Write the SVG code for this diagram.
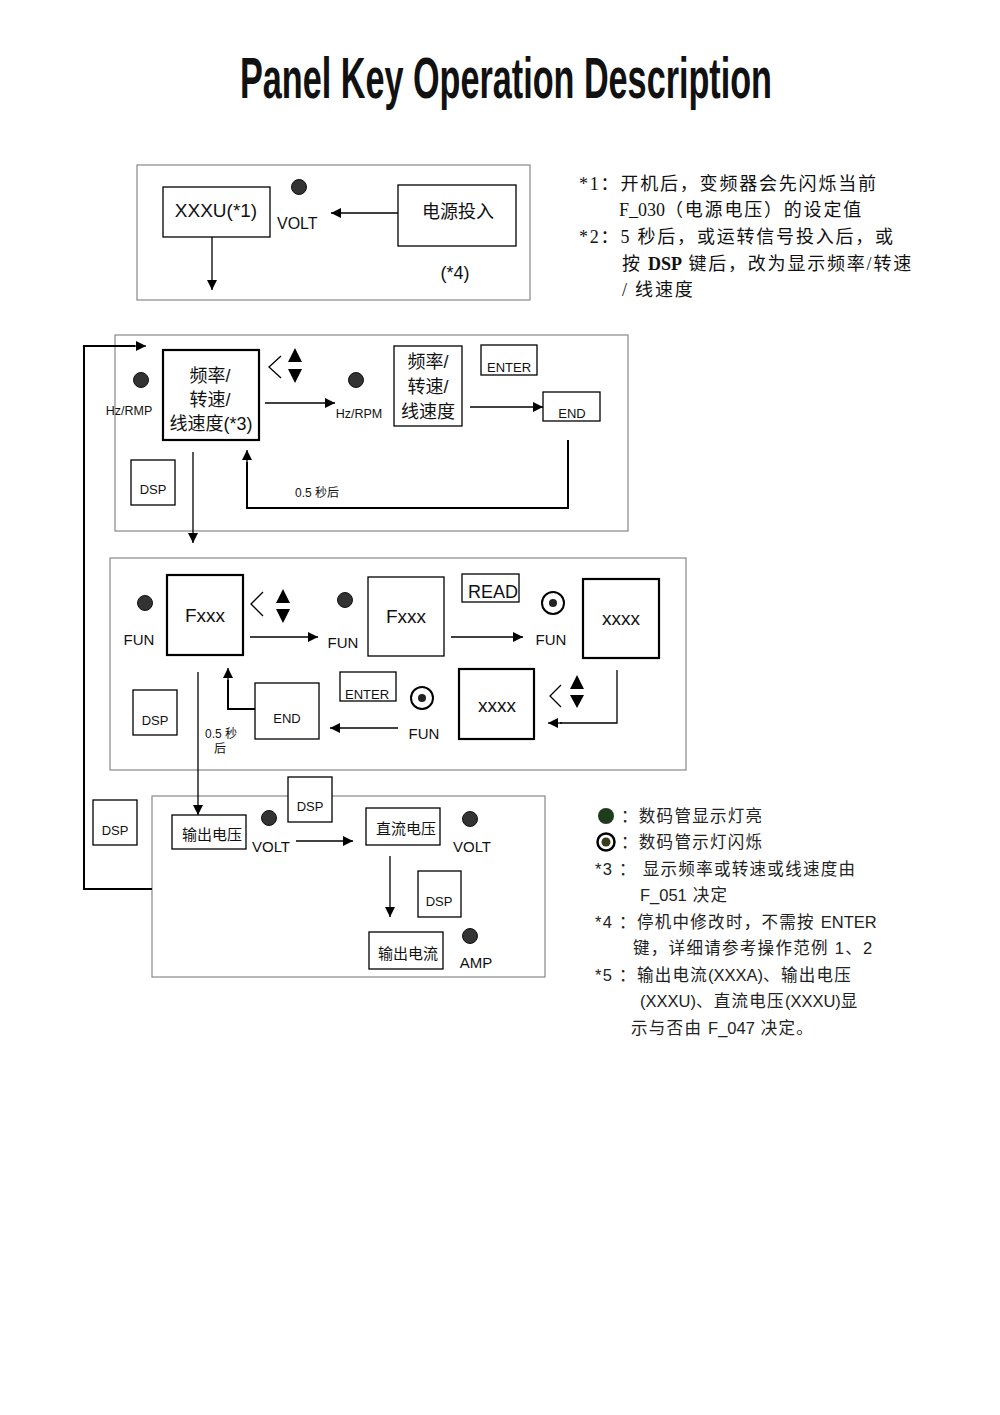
<svg xmlns="http://www.w3.org/2000/svg" width="1000" height="1415" viewBox="0 0 1000 1415">
<defs>
<marker id="ah" viewBox="0 0 10 10" refX="10" refY="5" markerWidth="10" markerHeight="10" markerUnits="userSpaceOnUse" orient="auto"><path d="M0,0 L10,5 L0,10 z" fill="#000"/></marker>
</defs>
<style>
.panel{fill:#fff;stroke:#888;stroke-width:1.2}
.box{fill:#fff;stroke:#000;stroke-width:1.3}
.tbox{fill:#fff;stroke:#000;stroke-width:2.2}
.t{font-family:"Liberation Sans","Noto Sans CJK SC",sans-serif;fill:#111}
.c{text-anchor:middle}
.dot{fill:#333;stroke:#111;stroke-width:1}
.ln{fill:none;stroke:#000;stroke-width:1.3}
.lnb{fill:none;stroke:#000;stroke-width:2}
.n{font-family:"Liberation Serif","Noto Sans CJK SC",serif;font-size:18px;letter-spacing:1.8px;fill:#111}
.m{font-family:"Liberation Sans","Noto Sans CJK SC",sans-serif;font-size:16.5px;letter-spacing:1.3px;fill:#222}
.l0{letter-spacing:0}
</style>
<rect width="1000" height="1415" fill="#fff"/>
<text transform="translate(506,98) scale(1,1.45)" x="0" y="0" class="t c" font-size="40" font-weight="bold" textLength="532" lengthAdjust="spacingAndGlyphs" fill="#000">Panel Key Operation Description</text>

<!-- panels -->
<rect class="panel" x="137" y="165" width="393" height="135"/>
<rect class="panel" x="115" y="335" width="513" height="196"/>
<rect class="panel" x="110" y="558" width="576" height="212"/>
<rect class="panel" x="152" y="796" width="393" height="181"/>

<!-- Panel 1 -->
<g id="n-xxxu"><rect class="box" x="163" y="187" width="107" height="50"/><text x="216" y="217" class="t c" font-size="19">XXXU(*1)</text></g>
<g id="n-volt1"><circle class="dot" cx="299" cy="187" r="7.5"/><text x="277" y="229" class="t" font-size="16">VOLT</text></g>
<g id="n-power"><rect class="box" x="398" y="185" width="118" height="61"/><text x="458" y="218" class="t c" font-size="18">电源投入</text></g>
<g id="n-star4"><text x="455" y="279" class="t c" font-size="18">(*4)</text></g>

<!-- Panel 2 -->
<g id="n-hzrmp"><circle class="dot" cx="141" cy="380" r="7.5"/><text x="129" y="415" class="t c" font-size="12.5">Hz/RMP</text></g>
<g id="n-freq1"><rect class="tbox" x="163" y="350" width="96" height="90"/>
<text x="210" y="382" class="t c" font-size="18">频率/</text>
<text x="210" y="406" class="t c" font-size="18">转速/</text>
<text x="211" y="430" class="t c" font-size="18">线速度(*3)</text></g>
<g id="n-updown1"><path d="M281,356 L269,367 L281,378" class="ln" stroke-width="1.6"/><path d="M295,348 L302,362 L288,362 z M288,369 L302,369 L295,383 z" fill="#000"/></g>
<g id="n-hzrpm"><circle class="dot" cx="356" cy="380" r="7.5"/><text x="359" y="418" class="t c" font-size="12.5">Hz/RPM</text></g>
<g id="n-freq2"><rect class="box" x="394" y="346" width="68" height="80"/>
<text x="428" y="368" class="t c" font-size="18">频率/</text>
<text x="428" y="393" class="t c" font-size="18">转速/</text>
<text x="428" y="418" class="t c" font-size="18">线速度</text></g>
<g id="n-enter1"><rect class="box" x="481" y="345" width="56" height="30"/><text x="509" y="372" class="t c" font-size="13">ENTER</text></g>
<g id="n-end1"><rect class="box" x="543" y="392" width="57" height="29"/><text x="572" y="418" class="t c" font-size="13">END</text></g>
<g id="n-dsp1"><rect class="box" x="131" y="460" width="44" height="45"/><text x="153" y="494" class="t c" font-size="13">DSP</text></g>
<g id="n-half1"><text x="295" y="497" class="t" font-size="12">0.5 秒后</text></g>

<!-- Panel 3 -->
<g id="n-fun1"><circle class="dot" cx="145" cy="603" r="7.5"/><text x="139" y="645" class="t c" font-size="15">FUN</text></g>
<g id="n-fxxx1"><rect class="tbox" x="167" y="575" width="76" height="80"/><text x="205" y="622" class="t c" font-size="19">Fxxx</text></g>
<g id="n-updown2"><path d="M263,592 L251,604 L263,616" class="ln" stroke-width="1.6"/><path d="M283,589 L290,603 L276,603 z M276,609 L290,609 L283,623 z" fill="#000"/></g>
<g id="n-fun2"><circle class="dot" cx="345" cy="600" r="7.5"/><text x="343" y="648" class="t c" font-size="15">FUN</text></g>
<g id="n-fxxx2"><rect class="box" x="368" y="577" width="76" height="79"/><text x="406" y="623" class="t c" font-size="19">Fxxx</text></g>
<g id="n-read"><rect class="box" x="462" y="574" width="57" height="28"/><text x="493" y="598" class="t c" font-size="18">READ</text></g>
<g id="n-fun3"><circle cx="553" cy="603" r="11" fill="#fff" stroke="#000" stroke-width="2"/><circle cx="553" cy="603" r="4" fill="#222"/><text x="551" y="645" class="t c" font-size="15">FUN</text></g>
<g id="n-xxxx1"><rect class="tbox" x="583" y="579" width="76" height="79"/><text x="621" y="625" class="t c" font-size="19">xxxx</text></g>
<g id="n-updown3"><path d="M561,685 L550,696 L561,707" class="ln" stroke-width="1.6"/><path d="M577,675 L584,689 L570,689 z M570,695 L584,695 L577,708 z" fill="#000"/></g>
<g id="n-xxxx2"><rect class="tbox" x="459" y="669" width="75" height="70"/><text x="497" y="712" class="t c" font-size="19">xxxx</text></g>
<g id="n-fun4"><circle cx="422" cy="698" r="11" fill="#fff" stroke="#000" stroke-width="2"/><circle cx="422" cy="698" r="4" fill="#222"/><text x="424" y="739" class="t c" font-size="15">FUN</text></g>
<g id="n-enter2"><rect class="box" x="340" y="672" width="56" height="29"/><text x="367" y="699" class="t c" font-size="13">ENTER</text></g>
<g id="n-end2"><rect class="box" x="255" y="683" width="64" height="56"/><text x="287" y="723" class="t c" font-size="13">END</text></g>
<g id="n-dsp2"><rect class="box" x="133" y="690" width="44" height="45"/><text x="155" y="725" class="t c" font-size="13">DSP</text></g>
<g id="n-half2"><text x="205" y="738" class="t" font-size="12">0.5 秒</text><text x="220" y="753" class="t c" font-size="12">后</text></g>

<!-- Panel 4 -->
<g id="n-dsp3"><rect class="box" x="93" y="800" width="44" height="45"/><text x="115" y="835" class="t c" font-size="13">DSP</text></g>
<g id="n-dsp4"><rect class="box" x="288" y="777" width="44" height="45"/><text x="310" y="811" class="t c" font-size="13">DSP</text></g>
<g id="n-outv"><rect class="box" x="172" y="815" width="74" height="34"/><text x="212" y="840" class="t c" font-size="15">输出电压</text></g>
<g id="n-volt2"><circle class="dot" cx="269" cy="818" r="7.5"/><text x="271" y="852" class="t c" font-size="15">VOLT</text></g>
<g id="n-dcv"><rect class="box" x="366" y="808" width="74" height="37"/><text x="406" y="834" class="t c" font-size="15">直流电压</text></g>
<g id="n-volt3"><circle class="dot" cx="470" cy="819" r="7.5"/><text x="472" y="852" class="t c" font-size="15">VOLT</text></g>
<g id="n-dsp5"><rect class="box" x="418" y="871" width="43" height="46"/><text x="439" y="906" class="t c" font-size="13">DSP</text></g>
<g id="n-outa"><rect class="box" x="369" y="932" width="74" height="37"/><text x="408" y="959" class="t c" font-size="15">输出电流</text></g>
<g id="n-amp"><circle class="dot" cx="470" cy="936" r="7.5"/><text x="476" y="968" class="t c" font-size="15">AMP</text></g>

<!-- connectors -->
<g id="connectors">
<line class="ln" x1="398" y1="213" x2="331" y2="213" marker-end="url(#ah)"/>
<line class="ln" x1="212" y1="237" x2="212" y2="290" marker-end="url(#ah)"/>
<polyline class="lnb" points="152,889 84,889 84,346 135,346"/>
<line class="ln" x1="130" y1="346" x2="146" y2="346" marker-end="url(#ah)"/>
<line class="ln" x1="265" y1="403" x2="335" y2="403" marker-end="url(#ah)"/>
<line class="ln" x1="470" y1="407" x2="543" y2="407" marker-end="url(#ah)"/>
<polyline class="lnb" points="568,440 568,508 247,508 247,462"/>
<line class="ln" x1="247" y1="465" x2="247" y2="450" marker-end="url(#ah)"/>
<line class="ln" x1="193" y1="452" x2="193" y2="543" marker-end="url(#ah)"/>
<line class="ln" x1="250" y1="637" x2="318" y2="637" marker-end="url(#ah)"/>
<line class="ln" x1="451" y1="637" x2="523" y2="637" marker-end="url(#ah)"/>
<polyline class="ln" points="617,670 617,723 560,723"/>
<line class="ln" x1="562" y1="723" x2="548" y2="723" marker-end="url(#ah)"/>
<line class="ln" x1="398" y1="728" x2="330" y2="728" marker-end="url(#ah)"/>
<polyline class="lnb" points="255,709 228,709 228,680"/>
<line class="ln" x1="228" y1="682" x2="228" y2="668" marker-end="url(#ah)"/>
<line class="ln" x1="198" y1="672" x2="198" y2="815" marker-end="url(#ah)"/>
<line class="ln" x1="296" y1="841" x2="353" y2="841" marker-end="url(#ah)"/>
<line class="ln" x1="390" y1="856" x2="390" y2="917" marker-end="url(#ah)"/>
</g>

<!-- notes top -->
<g id="notes-top">
<text x="579" y="190" class="n">*1：开机后，变频器会先闪烁当前</text>
<text x="619" y="216" class="n"><tspan class="l0">F_030</tspan>（电源电压）的设定值</text>
<text x="579" y="243" class="n">*2：5 秒后，或运转信号投入后，或</text>
<text x="622" y="270" class="n">按 <tspan font-weight="bold" class="l0">DSP</tspan> 键后，改为显示频率/转速</text>
<text x="622" y="296" class="n">/  线速度</text>
</g>

<!-- notes bottom -->
<g id="notes-bottom">
<circle cx="606" cy="816" r="8" fill="#1d3d1d"/>
<text x="621" y="822" class="m">：数码管显示灯亮</text>
<circle cx="606" cy="842" r="8.5" fill="#fff" stroke="#000" stroke-width="2.5"/><circle cx="606" cy="842" r="4.5" fill="#3a3a1a"/>
<text x="621" y="848" class="m">：数码管示灯闪烁</text>
<text x="595" y="875" class="m">*3 ： 显示频率或转速或线速度由</text>
<text x="640" y="901" class="m"><tspan class="l0">F_051</tspan> 决定</text>
<text x="595" y="928" class="m">*4 ：停机中修改时，不需按 <tspan class="l0">ENTER</tspan></text>
<text x="633" y="954" class="m">键，详细请参考操作范例 1、2</text>
<text x="595" y="981" class="m">*5 ：输出电流<tspan class="l0">(XXXA)</tspan>、输出电压</text>
<text x="640" y="1007" class="m"><tspan class="l0">(XXXU)</tspan>、直流电压<tspan class="l0">(XXXU)</tspan>显</text>
<text x="631" y="1034" class="m">示与否由 <tspan class="l0">F_047</tspan> 决定。</text>
</g>
</svg>
